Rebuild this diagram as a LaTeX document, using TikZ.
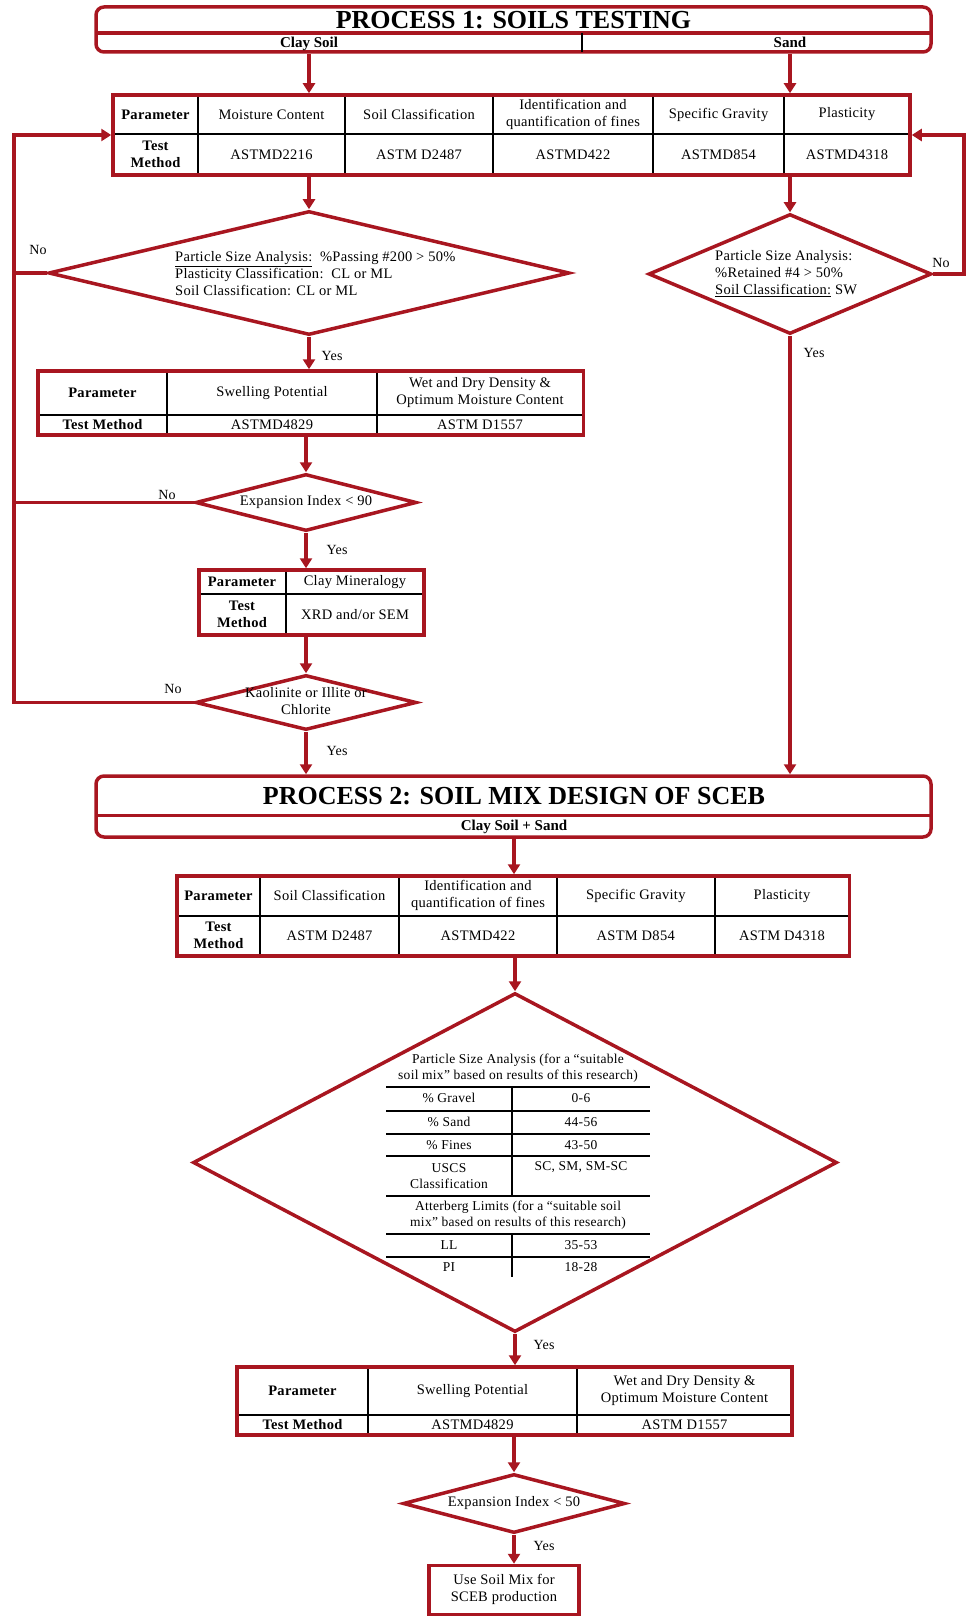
\documentclass[tikz,border=0pt]{standalone}
\usepackage{fontspec}
\setmainfont{Liberation Serif}[LetterSpace=2]
\newfontfamily\headfont{Liberation Serif}
\usepackage{tikz}
\usetikzlibrary{arrows.meta,positioning,shapes.geometric,calc}
\definecolor{flowred}{RGB}{168,22,32}

\begin{document}
\begin{tikzpicture}[x=1pt,y=-1pt,
  >={Triangle[length=10pt,width=12pt]},
  flow/.style={draw=flowred,line width=3.5pt},
  flowarrow/.style={flow,->},
  procbox/.style={draw=flowred,line width=3.5pt,rounded corners=8pt,inner sep=0pt},
  tableframe/.style={draw=flowred,line width=3.5pt,inner sep=0pt},
  cellline/.style={draw=black,line width=2pt},
  decision/.style={diamond,draw=flowred,line width=3.5pt,inner sep=0pt},
  cell/.style={inner sep=0pt,align=center,font=\fontsize{14.5}{17}\selectfont},
  bcell/.style={cell,font=\fontsize{14.5}{17}\selectfont\bfseries},
  tinycell/.style={inner sep=0pt,align=center,font=\fontsize{13.5}{16.5}\selectfont},
  heading/.style={inner sep=0pt,font=\headfont\fontsize{26}{26}\selectfont\bfseries},
  subheading/.style={inner sep=0pt,anchor=base,font=\headfont\fontsize{15}{15}\selectfont\bfseries},
  answer/.style={inner sep=0pt,font=\fontsize{14}{16}\selectfont}]
  \useasboundingbox (0,0) rectangle (967,1616);

  % process 1 header
  \node[procbox,minimum width=835pt,minimum height=45pt] (proc1) at (513.5,29.5) {};
  \draw[flow] (96,33) -- (931,33);
  \draw[black,line width=1.5pt] (582,33) -- (582,52);
  \node[heading] (title1) at (513.5,20) {PROCESS 1: SOILS TESTING};
  \node[subheading] (clay) at (309,47.5) {Clay Soil};
  \node[subheading] (sand) at (790,47.5) {Sand};

  % table A: tests on clay soil and sand
  \draw[cellline] (113,134) -- (910,134);
  \foreach \xc in {198,345,493,653,784} \draw[cellline] (\xc,95) -- (\xc,175);
  \node[tableframe,minimum width=797pt,minimum height=80pt] (tabA) at (511.5,135) {};
  \node[bcell] (tabApar) at (155.5,114.5) {Parameter};
  \node[cell] (tabAmc) at (271.5,114.5) {Moisture Content};
  \node[cell] (tabAsc) at (419,114.5) {Soil Classification};
  \node[cell] (tabAfin) at (573,114.5) {Identification and\\quantification of fines};
  \node[cell] (tabAsg) at (718.5,114.5) {Specific Gravity};
  \node[cell] (tabApl) at (847,114.5) {Plasticity};
  \node[bcell] (tabAtm) at (155.5,154.5) {Test\\Method};
  \node[cell] (tabAmcm) at (271.5,154.5) {ASTMD2216};
  \node[cell] (tabAscm) at (419,154.5) {ASTM D2487};
  \node[cell] (tabAfinm) at (573,154.5) {ASTMD422};
  \node[cell] (tabAsgm) at (718.5,154.5) {ASTMD854};
  \node[cell] (tabAplm) at (847,154.5) {ASTMD4318};

  % clay soil branch
  \node[decision,minimum width=521pt,minimum height=124pt] (dclay) at (309,273) {};
  \node[cell,align=left,anchor=west] (dclaytxt) at (175,274)
    {\underline{Particle Size Analysis:}\ \ \%Passing \#200 > 50\%\\
     Plasticity Classification:\ \ CL or ML\\
     Soil Classification: CL or ML};

  \draw[cellline] (38,414.5) -- (583.5,414.5);
  \foreach \xc in {167,377} \draw[cellline] (\xc,371) -- (\xc,435);
  \node[tableframe,minimum width=545.5pt,minimum height=64pt] (tabB) at (310.75,403) {};
  \node[bcell] (tabBpar) at (102.5,392.75) {Parameter};
  \node[cell] (tabBsw) at (272,392.75) {Swelling Potential};
  \node[cell] (tabBden) at (480,392.75) {Wet and Dry Density \&\\Optimum Moisture Content};
  \node[bcell] (tabBtm) at (102.5,424.75) {Test Method};
  \node[cell] (tabBswm) at (272,424.75) {ASTMD4829};
  \node[cell] (tabBdenm) at (480,424.75) {ASTM D1557};

  \node[decision,minimum width=221pt,minimum height=57pt] (dexp) at (306,502.5) {};
  \node[cell] (dexptxt) at (306,502) {Expansion Index < 90};

  \draw[cellline] (199,594) -- (424,594);
  \draw[cellline] (285.6,570) -- (285.6,635);
  \node[tableframe,minimum width=225pt,minimum height=65pt] (tabC) at (311.5,602.5) {};
  \node[bcell] (tabCpar) at (242,582) {Parameter};
  \node[cell] (tabCcm) at (355,582) {Clay Mineralogy};
  \node[bcell] (tabCtm) at (242,614.5) {Test\\Method};
  \node[cell] (tabCcmm) at (355,614.5) {XRD and/or SEM};

  \node[decision,minimum width=221pt,minimum height=55pt] (dmin) at (306,702.5) {};
  \node[cell] (dmintxt) at (306,701) {Kaolinite or Illite or\\Chlorite};

  % sand branch
  \node[decision,minimum width=283pt,minimum height=120pt] (dsand) at (790,274) {};
  \node[cell,align=left,anchor=west] (dsandtxt) at (715,274)
    {Particle Size Analysis:\\
     \%Retained \#4 > 50\%\\
     \underline{Soil Classification:} SW};

  % process 2 header
  \node[procbox,minimum width=835pt,minimum height=61pt] (proc2) at (513.5,806.5) {};
  \draw[flow] (96,815.5) -- (931,815.5);
  \node[heading] (title2) at (514,796) {PROCESS 2: SOIL MIX DESIGN OF SCEB};
  \node[subheading] (mix) at (514,830) {Clay Soil + Sand};

  % table D: tests on the soil mix
  \draw[cellline] (177,915.5) -- (849.5,915.5);
  \foreach \xc in {260,399,557,714.5} \draw[cellline] (\xc,876) -- (\xc,956);
  \node[tableframe,minimum width=672.5pt,minimum height=80pt] (tabD) at (513.25,916) {};
  \node[bcell] (tabDpar) at (218.5,895.75) {Parameter};
  \node[cell] (tabDsc) at (329.5,895.75) {Soil Classification};
  \node[cell] (tabDfin) at (478,895.75) {Identification and\\quantification of fines};
  \node[cell] (tabDsg) at (635.75,895.75) {Specific Gravity};
  \node[cell] (tabDpl) at (782,895.75) {Plasticity};
  \node[bcell] (tabDtm) at (218.5,935.75) {Test\\Method};
  \node[cell] (tabDscm) at (329.5,935.75) {ASTM D2487};
  \node[cell] (tabDfinm) at (478,935.75) {ASTMD422};
  \node[cell] (tabDsgm) at (635.75,935.75) {ASTM D854};
  \node[cell] (tabDplm) at (782,935.75) {ASTM D4318};

  % suitable soil mix criteria
  \node[decision,minimum width=644pt,minimum height=339pt] (dmix) at (515,1162.5) {};
  \foreach \yl in {1087,1111,1134,1156,1196,1234,1257} \draw[cellline,line width=2.5pt] (386,\yl) -- (650,\yl);
  \draw[cellline] (512,1087) -- (512,1196);
  \draw[cellline] (512,1234) -- (512,1277);
  \node[tinycell] (psa) at (518,1068) {Particle Size Analysis (for a “suitable\\soil mix” based on results of this research)};
  \node[tinycell] (gravel) at (449,1098) {\% Gravel};
  \node[tinycell] (gravelv) at (581,1098) {0-6};
  \node[tinycell] (sandp) at (449,1122) {\% Sand};
  \node[tinycell] (sandv) at (581,1122) {44-56};
  \node[tinycell] (fines) at (449,1145) {\% Fines};
  \node[tinycell] (finesv) at (581,1145) {43-50};
  \node[tinycell] (uscs) at (449,1176) {USCS\\Classification};
  \node[tinycell] (uscsv) at (581,1167) {SC, SM, SM-SC};
  \node[tinycell] (atl) at (518,1215) {Atterberg Limits (for a “suitable soil\\mix” based on results of this research)};
  \node[tinycell] (ll) at (449,1245) {LL};
  \node[tinycell] (llv) at (581,1245) {35-53};
  \node[tinycell] (pi) at (449,1267) {PI};
  \node[tinycell] (piv) at (581,1267) {18-28};

  % table E
  \draw[cellline] (237,1414.5) -- (792,1414.5);
  \foreach \xc in {368,577} \draw[cellline] (\xc,1367) -- (\xc,1435);
  \node[tableframe,minimum width=555pt,minimum height=68pt] (tabE) at (514.5,1401) {};
  \node[bcell] (tabEpar) at (302.5,1390.75) {Parameter};
  \node[cell] (tabEsw) at (472.5,1390.75) {Swelling Potential};
  \node[cell] (tabEden) at (684.5,1390.75) {Wet and Dry Density \&\\Optimum Moisture Content};
  \node[bcell] (tabEtm) at (302.5,1424.75) {Test Method};
  \node[cell] (tabEswm) at (472.5,1424.75) {ASTMD4829};
  \node[cell] (tabEdenm) at (684.5,1424.75) {ASTM D1557};

  \node[decision,minimum width=222pt,minimum height=59pt] (dexp2) at (514,1503.5) {};
  \node[cell] (dexp2txt) at (514,1503) {Expansion Index < 50};

  \node[tableframe,minimum width=150pt,minimum height=49pt] (useit) at (504,1590) {};
  \node[cell] (useittxt) at (504,1589) {Use Soil Mix for\\SCEB production};

  % connectors
  \coordinate (loopL) at (14,0);
  \coordinate (loopR) at (964,0);
  \draw[flowarrow] (clay |- proc1.south) -- (clay |- tabA.north);
  \draw[flowarrow] (sand |- proc1.south) -- (sand |- tabA.north);
  \draw[flowarrow] (dclay |- tabA.south) -- (dclay.north);
  \draw[flowarrow] (dsand |- tabA.south) -- (dsand.north);
  \draw[flowarrow] (dclay.south) -- (dclay |- tabB.north);
  \draw[flowarrow] (dexp |- tabB.south) -- (dexp.north);
  \draw[flowarrow] (dexp.south) -- (dexp |- tabC.north);
  \draw[flowarrow] (dmin |- tabC.south) -- (dmin.north);
  \draw[flowarrow] (dmin.south) -- (dmin |- proc2.north);
  \draw[flowarrow] (dsand.south) -- (dsand |- proc2.north);
  \draw[flow] (dclay.west) -- (dclay.west -| loopL);
  \draw[flow] (dexp.west) -- (dexp.west -| loopL);
  \draw[flowarrow] (dmin.west) -- (dmin.west -| loopL) -- (tabA.west -| loopL) -- (tabA.west);
  \draw[flowarrow] (dsand.east) -- (dsand.east -| loopR) -- (tabA.east -| loopR) -- (tabA.east);
  \draw[flowarrow] (mix |- proc2.south) -- (mix |- tabD.north);
  \draw[flowarrow] (dmix |- tabD.south) -- (dmix.north);
  \draw[flowarrow] (dmix.south) -- (dmix |- tabE.north);
  \draw[flowarrow] (dexp2 |- tabE.south) -- (dexp2.north);
  \draw[flowarrow] (dexp2.south) -- (dexp2 |- useit.north);

  % yes / no labels
  \node[answer] (no1) at (38,249.5) {No};
  \node[answer] (yes1) at (332,356) {Yes};
  \node[answer] (no2) at (941,263) {No};
  \node[answer] (yes2) at (814,353) {Yes};
  \node[answer] (no3) at (167,495) {No};
  \node[answer] (yes3) at (337,549.5) {Yes};
  \node[answer] (no4) at (173,689) {No};
  \node[answer] (yes4) at (337,750.5) {Yes};
  \node[answer] (yes5) at (544,1345) {Yes};
  \node[answer] (yes6) at (544,1546) {Yes};
\end{tikzpicture}
\end{document}
